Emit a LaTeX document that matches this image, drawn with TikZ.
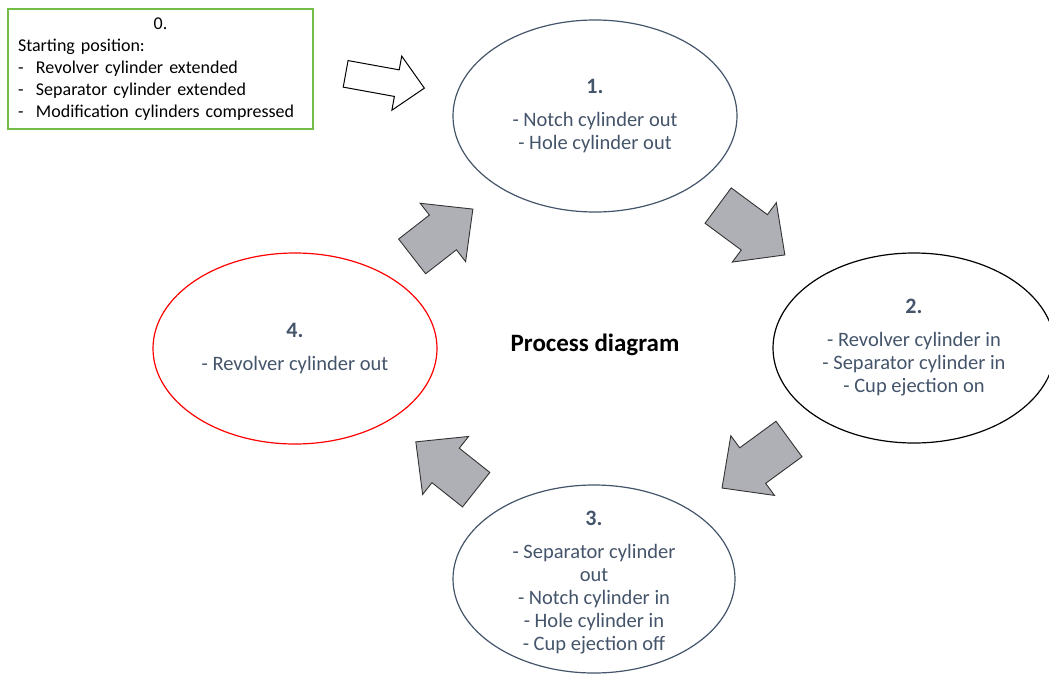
\documentclass[tikz,border=0pt]{standalone}
\usepackage{fontspec}
\setmainfont{Carlito}
\usetikzlibrary{positioning,shapes.geometric}
\definecolor{slate}{HTML}{44546A}
\definecolor{boxgreen}{RGB}{112,190,70}
\definecolor{arrowgrey}{RGB}{174,176,182}
% block arrow: style, centre, angle, half length, head length, half shaft, half head
\newcommand{\blockarrow}[7]{%
  \draw[#1,shift={#2},rotate=#3] (-#4,-#6) -- (#4-#5,-#6) -- (#4-#5,-#7) -- (#4,0)
    -- (#4-#5,#7) -- (#4-#5,#6) -- (-#4,#6) -- cycle;}
\newcommand{\steptitle}[1]{{\fontsize{22}{23}\selectfont\bfseries #1}\\[10pt]}

\begin{document}
\begin{tikzpicture}[x=1pt,y=-1pt,
    startbox/.style={draw=boxgreen, line width=1.3pt, text width=285pt, minimum width=305pt,
      minimum height=120pt, inner xsep=10pt, align=left, font=\fontsize{18}{22}\selectfont},
    stepnode/.style={ellipse, draw=slate, line width=1.2pt, inner sep=0pt},
    steptext/.style={text=slate, align=center, font=\fontsize{20.5}{23}\selectfont},
    greyarrow/.style={fill=arrowgrey, draw=black!80, line width=0.9pt, line join=miter}]
  \useasboundingbox (0,0) rectangle (1049,675);

  \node[startbox] (s0) at (160.5,69) {\makebox[285pt]{0.}\\
    Starting position:\\
    \makebox[18pt][l]{-}Revolver cylinder extended\\
    \makebox[18pt][l]{-}Separator cylinder extended\\
    \makebox[18pt][l]{-}Modification cylinders compressed};

  \node[stepnode, minimum width=284pt, minimum height=192pt] (s1) at (595,116) {};
  \node[stepnode, draw=black, minimum width=282pt, minimum height=190pt] (s2) at (914,348) {};
  \node[stepnode, minimum width=282pt, minimum height=188pt] (s3) at (594,579) {};
  \node[stepnode, draw=red, minimum width=284pt, minimum height=191pt] (s4) at (295,348.5) {};

  \node[steptext] (t1) at (s1.center) {\steptitle{1.} - Notch cylinder out\\ - Hole cylinder out};
  \node[steptext] (t2) at (s2.center) {\steptitle{2.} - Revolver cylinder in\\ - Separator cylinder in\\ - Cup ejection on};
  \node[steptext] (t3) at ([yshift=-4pt]s3.center) {\steptitle{3.} - Separator cylinder\\ out\\ - Notch cylinder in\\ - Hole cylinder in\\ - Cup ejection off};
  \node[steptext] (t4) at (s4.center) {\steptitle{4.} - Revolver cylinder out};

  \node[font=\fontsize{25}{30}\selectfont\bfseries] (title) at (595,345) {Process diagram};

  \blockarrow{fill=white,draw=black,line width=1pt}{(385,81)}{-10.3}{40}{28}{13.5}{27.5}
  \blockarrow{greyarrow}{(442.5,232.75)}{37.9}{38.5}{38}{22}{37}
  \blockarrow{greyarrow}{(751.5,230.25)}{-36.5}{41.5}{38}{22}{37}
  \blockarrow{greyarrow}{(755.5,463.5)}{-143.8}{41.5}{38}{22}{37}
  \blockarrow{greyarrow}{(446,465.75)}{141.6}{38.5}{38}{22}{37}
\end{tikzpicture}
\end{document}
